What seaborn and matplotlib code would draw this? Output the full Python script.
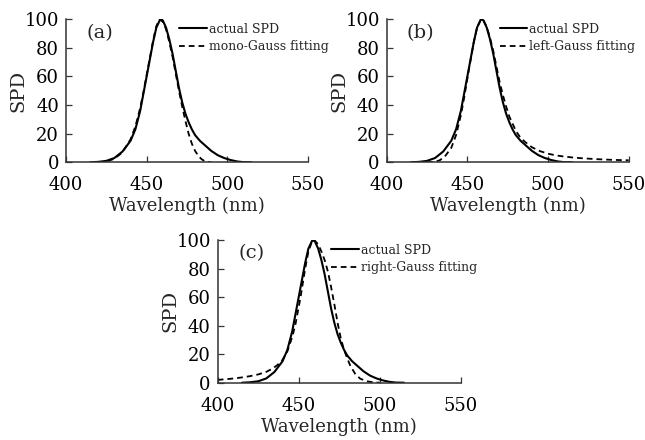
import numpy as np
import pandas as pd
import matplotlib
matplotlib.use("Agg")
import matplotlib.pyplot as plt
import seaborn as sns

# measured spectrum, same LED in all three panels
actual_wl = [415, 420, 425, 430, 435, 440, 443, 446, 448, 451, 454, 456, 458.5, 460, 462, 464,
             466, 468, 470, 472, 474, 476, 478, 480, 483, 486, 490, 494, 498, 502, 506, 510, 515]
actual_spd = [0, 0.3, 1, 3, 7.5, 15, 23, 36, 48, 66, 84, 94, 100, 99, 94, 86,
              76, 64, 52, 42, 34, 28, 23, 19, 15, 12, 8, 5, 3, 1.6, 0.6, 0.1, 0]

# (a) mono-Gauss fit
mono_wl = [420, 425, 430, 435, 440, 443, 446, 448, 451, 454, 456, 458, 460, 462, 464, 466,
           468, 470, 472, 474, 476, 478, 480, 482, 484, 486, 488, 490]
mono_spd = [0, 0.5, 2.5, 7, 16, 25, 38, 49, 67, 85, 95, 100, 98, 93, 84, 74,
            62, 50, 39, 29, 20, 13, 8, 4.5, 2.2, 0.8, 0.2, 0]

# (b) left-Gauss fit
left_wl = [425, 430, 433, 436, 440, 443, 446, 448, 451, 454, 456, 458.5, 460, 462, 464, 466,
           468, 470, 472, 474, 476, 478, 480, 483, 486, 490, 495, 500, 505, 510, 515, 520,
           530, 540, 550]
left_spd = [0, 0.3, 1.5, 4, 10, 19, 33, 45, 65, 84, 94, 100, 99, 94.5, 87, 78,
            67, 56, 47, 39, 32, 27, 22, 17, 14, 10.5, 7.8, 6, 4.8, 4, 3.4, 2.9,
            2.2, 1.7, 1.4]

# (c) right-Gauss fit
right_wl = [400, 405, 410, 415, 420, 425, 430, 434, 437, 440, 443, 446, 448, 451, 454, 456,
            458.5, 460, 462, 464, 466, 468, 470, 472, 474, 476, 478, 480, 482, 485, 488,
            492, 496, 500]
right_spd = [2, 2.4, 3, 3.7, 4.6, 5.8, 7.6, 10, 12.5, 16, 22, 32, 41, 59, 80, 92,
             100, 99.5, 97, 92, 86, 78, 67, 55, 42, 31, 23, 17, 11.5, 6, 2.8,
             1, 0.3, 0]

panels = [
    ("(a)", "mono-Gauss fitting", mono_wl, mono_spd, [66, 162.3, 242, 143.3]),
    ("(b)", "left-Gauss fitting", left_wl, left_spd, [386.7, 162.3, 242, 143.3]),
    ("(c)", "right-Gauss fitting", right_wl, right_spd, [217.7, 382.7, 243, 142.7]),
]

sns.set_style("ticks")
plt.rcParams['font.family'] = ['DejaVu Serif']
plt.rcParams['mathtext.fontset'] = 'dejavuserif'

W, H = 645, 440
fig = plt.figure(figsize=(W / 100, H / 100), dpi=100)

spine_col = "#333333"
actual_df = pd.DataFrame({"wl": actual_wl, "spd": actual_spd})

for tag, fit_name, fit_wl, fit_spd, (x0, y0, w, h) in panels:
    ax = fig.add_axes([x0 / W, (H - y0) / H, w / W, h / H])
    fit_df = pd.DataFrame({"wl": fit_wl, "spd": fit_spd})
    sns.lineplot(data=actual_df, x="wl", y="spd", ax=ax, color="black", lw=1.5,
                 label="actual SPD", sort=False)
    sns.lineplot(data=fit_df, x="wl", y="spd", ax=ax, color="black", lw=1.3,
                 linestyle=(0, (3.2, 2.2)), label=fit_name, sort=False)

    ax.set_xlim(400, 550)
    ax.set_ylim(0, 100)
    ax.set_xticks([400, 450, 500, 550])
    ax.set_yticks([0, 20, 40, 60, 80, 100])
    for s in ["top", "right"]:
        ax.spines[s].set_visible(False)
    for s in ["left", "bottom"]:
        ax.spines[s].set_color(spine_col)
        ax.spines[s].set_linewidth(1.1)
    ax.tick_params(axis="both", direction="in", length=4, width=0.9,
                   colors=spine_col, labelcolor="black", labelsize=13)
    ax.tick_params(axis="x", pad=10)
    ax.tick_params(axis="y", pad=5)
    ax.set_xlabel("Wavelength (nm)", fontsize=13, labelpad=2)
    ax.set_ylabel("SPD", fontsize=14, labelpad=-2)

    ax.text(0.14, 0.905, tag, transform=ax.transAxes, fontsize=14,
            ha="center", va="center")

    leg = ax.legend(loc="upper left", bbox_to_anchor=(0.468, 0.975), frameon=False,
                    fontsize=9, handlelength=2.2, handletextpad=0.15,
                    labelspacing=0.35, borderpad=0, borderaxespad=0)

fig.savefig("out.png", dpi=100)
